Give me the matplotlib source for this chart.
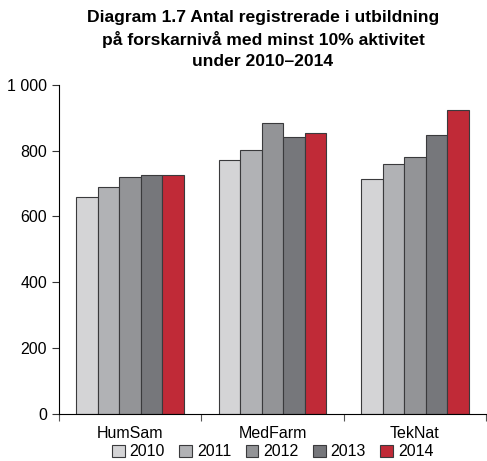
import numpy as np
import matplotlib.pyplot as plt

plt.rcParams['font.family'] = ['Liberation Sans', 'DejaVu Sans']

# Data
categories = ['HumSam', 'MedFarm', 'TekNat']
years = ['2010', '2011', '2012', '2013', '2014']
values = {
    '2010': [660, 773, 713],
    '2011': [690, 802, 758],
    '2012': [719, 885, 780],
    '2013': [727, 840, 847],
    '2014': [727, 855, 922],
}
colors = ['#d4d4d6', '#b1b2b5', '#939497', '#76777b', '#c02a37']

fig = plt.figure(figsize=(4.87, 4.61), dpi=100)
ax = fig.add_axes([0.121, 0.102, 0.877, 0.714])

x = np.arange(len(categories))
w = 0.151
for i, yr in enumerate(years):
    ax.bar(x + (i - 2) * w, values[yr], w, color=colors[i], edgecolor='#3a3a3c',
           linewidth=0.8, label=yr)

ax.set_xlim(-0.5, 2.5)
ax.set_ylim(0, 1000)
ax.set_yticks([0, 200, 400, 600, 800, 1000])
ax.set_yticklabels(['0', '200', '400', '600', '800', '1 000'])
ax.set_xticks(x)
ax.set_xticklabels(categories)
ax.set_xticks([-0.5, 0.5, 1.5, 2.5], minor=True)
ax.tick_params(axis='x', which='major', length=0, labelsize=11.5, pad=9)
ax.tick_params(axis='x', which='minor', length=5, width=0.8, color='#555555')
ax.tick_params(axis='y', length=5, width=0.8, labelsize=11.5, color='#333333')
for s in ['top', 'right']:
    ax.spines[s].set_visible(False)
ax.spines['left'].set_linewidth(0.8)
ax.spines['bottom'].set_linewidth(0.8)

fig.text(0.54, 0.978, 'Diagram 1.7 Antal registrerade i utbildning\npå forskarnivå med minst 10% aktivitet\nunder 2010–2014',
         ha='center', va='top', fontsize=12.6, fontweight='bold', linespacing=1.45)

fig.legend(loc='center', bbox_to_anchor=(0.56, 0.02), ncol=5, frameon=False,
           fontsize=11.5, handlelength=0.8, handleheight=0.8, handletextpad=0.3,
           columnspacing=0.9)

fig.savefig('out.png', dpi=100)
